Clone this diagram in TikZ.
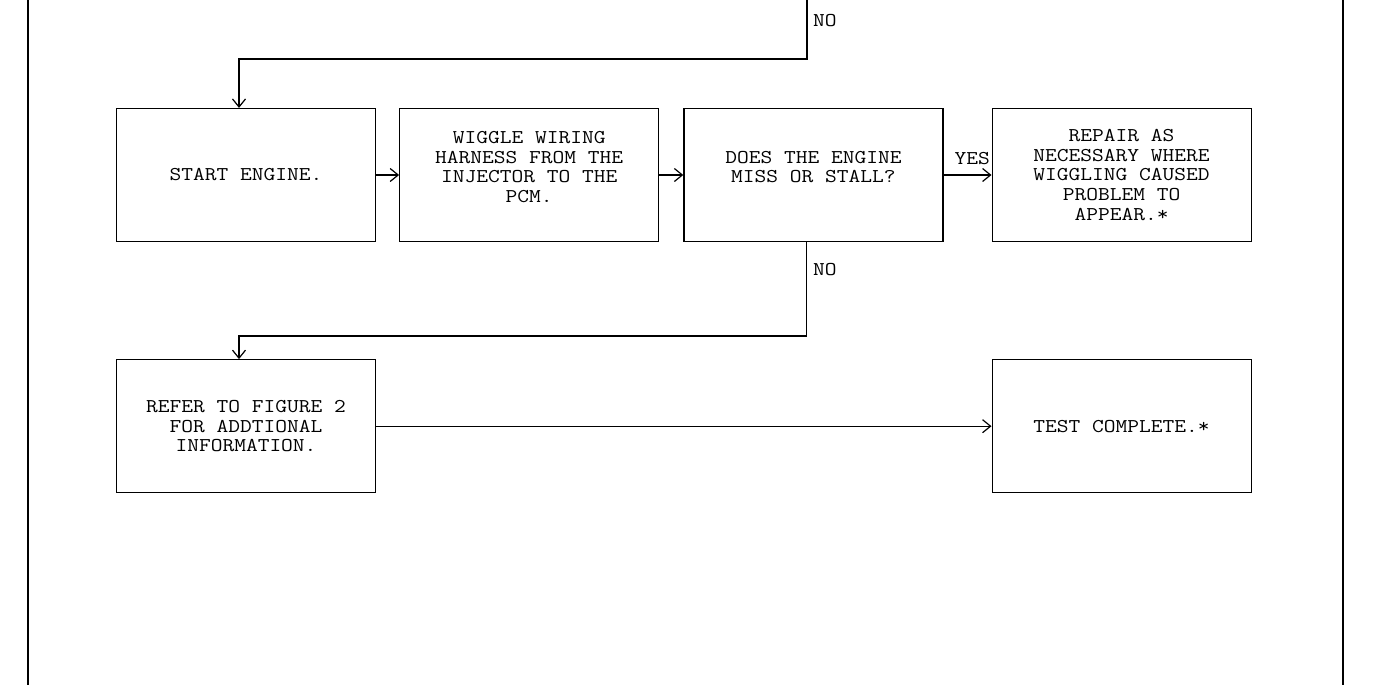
\documentclass[tikz,border=0pt]{standalone}
\usepackage{fontspec}
\setmonofont{Latin Modern Mono}[FakeStretch=1.17]
\usetikzlibrary{arrows.meta,positioning}
\tikzset{
  stepbox/.style={draw,line width=1.2pt,minimum width=259pt,minimum height=133pt,inner sep=2pt,align=center},
  flow/.style={->,line width=1.2pt},
  tag/.style={anchor=west,inner sep=2pt}
}

\begin{document}
\begin{tikzpicture}[x=1pt,y=-1pt,font=\ttfamily\fontsize{19.5}{19.7}\selectfont,>={Straight Barb[length=8pt,width=13pt]},node distance=23pt]
  \useasboundingbox (0,0) rectangle (1384,685);
  % page rules
  \draw[line width=2.5pt] (28,0) -- (28,685);
  \draw[line width=2.5pt] (1343,0) -- (1343,685);
  % first row
  \node[stepbox] (start) at (246,175) {START ENGINE.};
  \node[stepbox,right=of start,text depth=16pt] (wiggle) {WIGGLE WIRING\\HARNESS FROM THE\\INJECTOR TO THE\\PCM.};
  \node[stepbox,right=24pt of wiggle,text depth=16pt] (miss) {DOES THE ENGINE\\MISS OR STALL?};
  \node[stepbox,right=48pt of miss] (repair) {REPAIR AS\\NECESSARY WHERE\\WIGGLING CAUSED\\PROBLEM TO\\APPEAR.*};
  % second row
  \node[stepbox,below=117pt of start] (refer) {REFER TO FIGURE 2\\FOR ADDTIONAL\\INFORMATION.};
  \node[stepbox] (done) at (repair |- refer) {TEST COMPLETE.*};
  % connectors
  \coordinate (prevno) at (807,0);
  \coordinate (topbend) at (239,59);
  \coordinate (lowbend) at (239,336);
  \node[tag] (notop) at (811,21) {NO};
  \node[tag] (nolow) at (811,270) {NO};
  \draw[flow] (prevno) |- (topbend) -- (topbend |- start.north);
  \draw[flow] (start) -- (wiggle);
  \draw[flow] (wiggle) -- (miss);
  \draw[flow] (miss) -- (repair) node[pos=1,anchor=south east,inner sep=1pt,yshift=9pt] (yes) {YES};
  \draw[flow] ([xshift=-7pt]miss.south) |- (lowbend) -- (lowbend |- refer.north);
  \draw[flow] (refer) -- (done);
\end{tikzpicture}
\end{document}
